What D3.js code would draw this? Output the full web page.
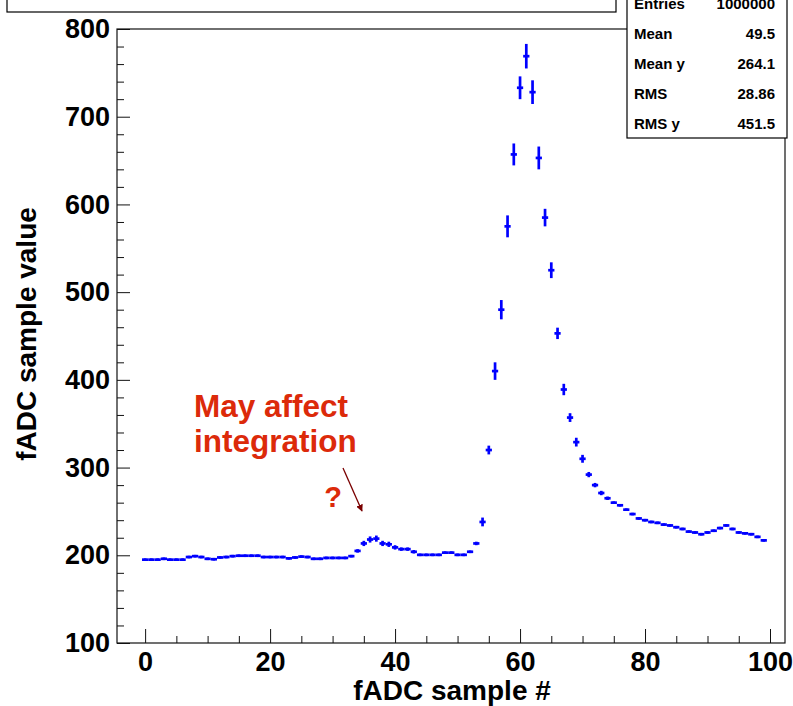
<!DOCTYPE html>
<html>
<head>
<meta charset="utf-8">
<script src="https://cdn.jsdelivr.net/npm/d3@7"></script>
<style>
  body { margin: 0; background: #fff; }
  svg { display: block; font-family: "Liberation Sans", Arial, sans-serif; }
</style>
</head>
<body>
<svg id="chart" width="793" height="706"></svg>
<script>
// profile values, one per fADC sample 0..99
const sampleValues = [
  195, 195, 195, 196, 195, 195, 195, 198, 199, 198,
  196, 195.5, 197.5, 198, 199, 199.5, 199.5, 199.5, 199.5, 198,
  198, 198, 198, 196.5, 197.5, 198.5, 198, 196, 196, 197,
  197, 197, 197, 199, 205, 213.5, 218, 219, 213.5, 212.5,
  209, 207, 207, 204, 200.5, 200.5, 200.5, 200.5, 203, 203,
  200.5, 200.5, 204, 213.5, 238, 320, 410, 480, 575, 657,
  733, 769, 728, 653, 585, 525, 453, 389, 357, 329,
  310, 292, 280, 271, 265, 260, 257, 252, 247, 242,
  240, 238, 237, 235, 234, 232, 230, 227, 226, 224,
  226, 228, 231, 234, 230, 226, 225, 224, 221, 217
];
// error bar half-lengths (same units)
const sampleErrors = [
  1.5, 1.5, 1.5, 1.5, 1.5, 1.5, 1.5, 1.5, 1.5, 1.5,
  1.5, 1.5, 1.5, 1.5, 1.5, 1.5, 1.5, 1.5, 1.5, 1.5,
  1.5, 1.5, 1.5, 1.5, 1.5, 1.5, 1.5, 1.5, 1.5, 1.5,
  1.5, 1.5, 1.5, 1.5, 2, 3, 3.5, 3.5, 3, 3,
  2.5, 2, 2, 2, 1.5, 1.5, 1.5, 1.5, 1.5, 1.5,
  1.5, 1.5, 1.5, 2, 5, 5, 10, 11, 12.5, 12.5,
  13, 14, 13.5, 13, 10, 9, 6.5, 6.5, 5, 5,
  4.5, 3, 2.5, 2.5, 2, 1.5, 1.5, 1.5, 1.5, 1.5,
  1.5, 1.5, 1.5, 1.5, 1.5, 1.5, 1.5, 1.5, 1.5, 1.5,
  1.5, 1.5, 1.5, 1.5, 1.5, 1.5, 1.5, 1.5, 1.5, 1.5
];
const xMajorTicks = [0, 20, 40, 60, 80, 100];
const xMinorTicks = [5, 10, 15, 25, 30, 35, 45, 50, 55, 65, 70, 75, 85, 90, 95];
const yMajorTicks = [100, 200, 300, 400, 500, 600, 700, 800];
const yMinorTicks = [120, 140, 160, 180, 220, 240, 260, 280, 320, 340, 360, 380,
  420, 440, 460, 480, 520, 540, 560, 580, 620, 640, 660, 680, 720, 740, 760, 780];
const statLabels = ["Entries", "Mean", "Mean y", "RMS", "RMS y"];
const statValues = ["1000000", "49.5", "264.1", "28.86", "451.5"];

const svg = d3.select("#chart");
const frame = {left: 117, right: 785, top: 29, bottom: 643};

const x = d3.scaleLinear().domain([-4.5, 102.4]).range([frame.left, frame.right]);
const y = d3.scaleLinear().domain([100, 800]).range([frame.bottom, frame.top]);

// title box, mostly off the top of the picture
svg.append("rect")
  .attr("x", 7).attr("y", -40).attr("width", 609).attr("height", 52)
  .attr("fill", "#fff").attr("stroke", "#000").attr("stroke-width", 1.2);

// axes: minor ticks first, then major ticks with labels
svg.append("g")
  .attr("transform", `translate(0,${frame.bottom})`)
  .call(d3.axisBottom(x).tickValues(xMinorTicks).tickSize(-7).tickFormat(""));
svg.append("g")
  .attr("class", "xaxis")
  .attr("transform", `translate(0,${frame.bottom})`)
  .call(d3.axisBottom(x).tickValues(xMajorTicks).tickSize(-14).tickPadding(9).tickFormat(d3.format("d")));
svg.append("g")
  .attr("transform", `translate(${frame.left},0)`)
  .call(d3.axisLeft(y).tickValues(yMinorTicks).tickSize(-7).tickFormat(""));
svg.append("g")
  .attr("class", "yaxis")
  .attr("transform", `translate(${frame.left},0)`)
  .call(d3.axisLeft(y).tickValues(yMajorTicks).tickSize(-13).tickPadding(7).tickFormat(d3.format("d")));

svg.selectAll(".domain").remove();
svg.selectAll(".tick line").attr("stroke", "#111").attr("stroke-width", 1);
svg.selectAll(".xaxis text, .yaxis text")
  .attr("font-size", 27).attr("font-weight", "bold").attr("fill", "#000")
  .attr("font-family", "Liberation Sans, Arial, sans-serif");

// frame
svg.append("rect")
  .attr("x", frame.left).attr("y", frame.top)
  .attr("width", frame.right - frame.left).attr("height", frame.bottom - frame.top)
  .attr("fill", "none").attr("stroke", "#111").attr("stroke-width", 1.2);

// axis titles
svg.append("text")
  .attr("x", 452).attr("y", 700)
  .attr("text-anchor", "middle")
  .attr("font-size", 28).attr("font-weight", "bold")
  .text("fADC sample #");
svg.append("text")
  .attr("transform", "translate(36,334) rotate(-90)")
  .attr("text-anchor", "middle")
  .attr("font-size", 28).attr("font-weight", "bold")
  .text("fADC sample value");

// profile points: horizontal bar over the bin, vertical error bar
const pts = svg.append("g").attr("stroke", "#0000ff").attr("stroke-width", 2.7);
sampleValues.forEach((v, i) => {
  pts.append("line")
    .attr("x1", x(i - 0.5)).attr("x2", x(i + 0.5))
    .attr("y1", y(v)).attr("y2", y(v));
  pts.append("line")
    .attr("x1", x(i)).attr("x2", x(i))
    .attr("y1", y(v - sampleErrors[i])).attr("y2", y(v + sampleErrors[i]));
});

// stats box
const stats = svg.append("g");
stats.append("rect")
  .attr("x", 627).attr("y", -12).attr("width", 160).attr("height", 150)
  .attr("fill", "#fff").attr("stroke", "#000").attr("stroke-width", 1.2);
statLabels.forEach((lab, i) => {
  const by = 9 + i * 30;
  stats.append("text")
    .attr("x", 634).attr("y", by)
    .attr("font-size", 15).attr("font-weight", "bold")
    .text(lab);
  stats.append("text")
    .attr("x", 775).attr("y", by)
    .attr("text-anchor", "end")
    .attr("font-size", 15).attr("font-weight", "bold")
    .text(statValues[i]);
});

// annotation
const red = "#dc2a0a";
svg.append("text")
  .attr("x", 194).attr("y", 417)
  .attr("font-size", 31.5).attr("font-weight", "bold").attr("fill", red)
  .text("May affect");
svg.append("text")
  .attr("x", 194).attr("y", 452)
  .attr("font-size", 31.5).attr("font-weight", "bold").attr("fill", red)
  .text("integration");
svg.append("text")
  .attr("x", 333).attr("y", 507)
  .attr("text-anchor", "middle")
  .attr("font-size", 29).attr("font-weight", "bold").attr("fill", red)
  .text("?");

svg.append("defs").append("marker")
  .attr("id", "arrow")
  .attr("viewBox", "0 0 10 10")
  .attr("refX", 9).attr("refY", 5)
  .attr("markerWidth", 7).attr("markerHeight", 7)
  .attr("markerUnits", "userSpaceOnUse")
  .attr("orient", "auto")
  .append("path")
  .attr("d", "M0,0 L10,5 L0,10 z")
  .attr("fill", "#7a0000");
svg.append("line")
  .attr("x1", 343).attr("y1", 468).attr("x2", 362).attr("y2", 511)
  .attr("stroke", "#7a0000").attr("stroke-width", 1.3)
  .attr("marker-end", "url(#arrow)");
</script>
</body>
</html>
